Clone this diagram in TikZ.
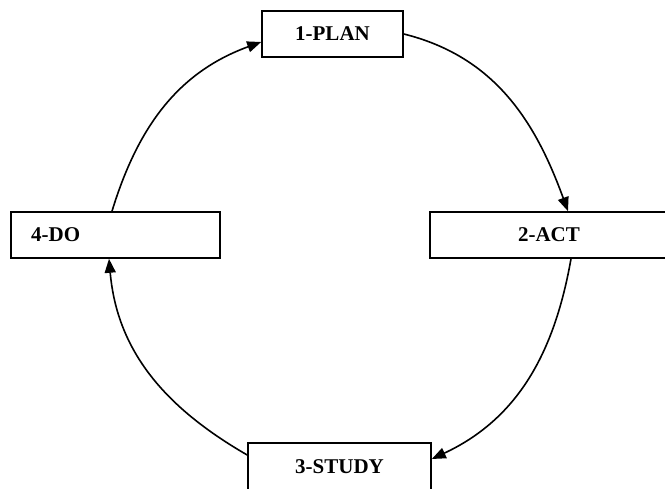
\documentclass[tikz,border=0pt]{standalone}
\usepackage{fontspec}
\setmainfont{Liberation Serif}
\usetikzlibrary{arrows.meta}
\begin{document}
\begin{tikzpicture}[x=1pt,y=1pt,
  lbl/.style={font=\fontsize{21}{25}\selectfont\bfseries},
  stagebox/.style={lbl,draw=black,line width=1.6pt,fill=white,minimum height=46pt,inner sep=0pt},
  cyc/.style={line width=1.6pt,-{Triangle[length=14pt,width=11pt]}}]
\useasboundingbox (0,0) rectangle (665,489);
\clip (0,0) rectangle (665,489);
\node[stagebox,minimum width=141pt] (plan) at (332.5,455) {1-PLAN};
\node[stagebox,minimum width=238pt] (act) at (549,254) {2-ACT};
\node[stagebox,minimum width=209pt] (do) at (115.5,254) {};
\node[lbl,anchor=west,inner sep=0pt] (dolabel) at (31,254) {4-DO};
\node[stagebox,minimum width=183pt,minimum height=48pt] (study) at (339.5,22) {3-STUDY};
\draw[cyc] (plan.east) to[out=-14,in=110] ([xshift=19pt]act.north);
\draw[cyc] ([xshift=22pt]act.south) to[out=-100,in=25] ([yshift=8pt]study.east);
\draw[cyc] ([yshift=12pt]study.west) to[out=150,in=-85] ([xshift=-6.5pt]do.south);
\draw[cyc] ([xshift=-3.5pt]do.north) to[out=73,in=200] ([yshift=-8pt]plan.west);
\end{tikzpicture}
\end{document}
